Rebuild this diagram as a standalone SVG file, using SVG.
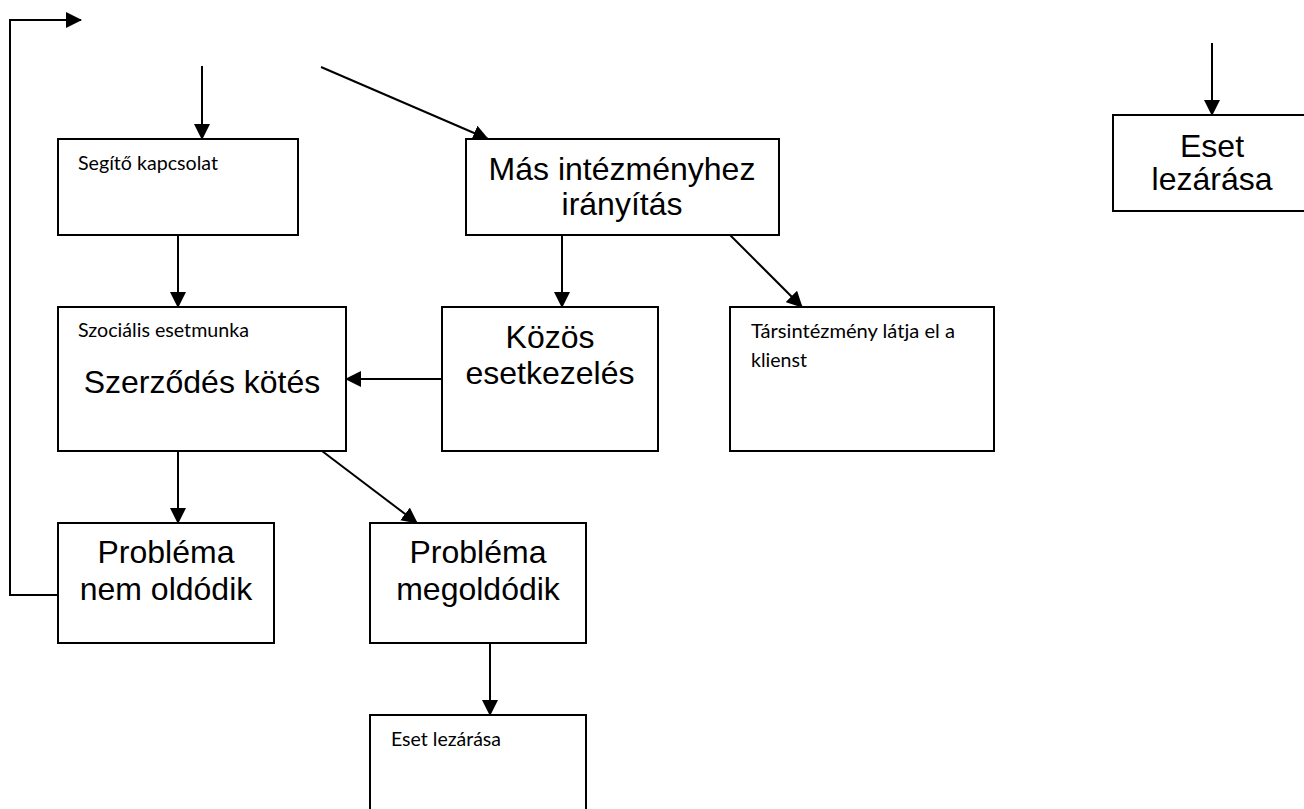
<svg xmlns="http://www.w3.org/2000/svg" width="1304" height="809" viewBox="0 0 1304 809">
  <defs>
    <marker id="arrow" markerUnits="userSpaceOnUse" markerWidth="16" markerHeight="16" refX="15" refY="8" orient="auto">
      <path d="M0,0 L16,8 L0,16 z" fill="#000"/>
    </marker>
    <style>
      .box { fill: #fff; stroke: #000; stroke-width: 2; }
      .big { font-family: "Liberation Sans", Arial, sans-serif; font-size: 32px; fill: #000; text-anchor: middle; }
      .small { font-family: Lato, "Open Sans", sans-serif; font-size: 20px; fill: #000; }
      .edge { fill: none; stroke: #000; stroke-width: 2; marker-end: url(#arrow); }
    </style>
  </defs>
  <rect width="1304" height="809" fill="#fff"/>

  <g id="connectors">
    <polyline class="edge" points="58,595 10,595 10,20 81,20"/>
    <line class="edge" x1="202" y1="66" x2="202" y2="139"/>
    <line class="edge" x1="321" y1="67" x2="488" y2="139"/>
    <line class="edge" x1="562" y1="235" x2="562" y2="307"/>
    <line class="edge" x1="730" y1="235" x2="802" y2="307"/>
    <line class="edge" x1="178" y1="235" x2="178" y2="307"/>
    <line class="edge" x1="442" y1="379" x2="346" y2="379"/>
    <line class="edge" x1="178" y1="451" x2="178" y2="523"/>
    <line class="edge" x1="322" y1="451" x2="417" y2="523"/>
    <line class="edge" x1="490" y1="643" x2="490" y2="715"/>
    <line class="edge" x1="1212" y1="43" x2="1212" y2="115"/>
  </g>

  <g id="segito-kapcsolat">
    <rect class="box" x="58" y="139" width="240" height="96"/>
    <text class="small" x="78" y="170" textLength="140" lengthAdjust="spacingAndGlyphs">Segítő kapcsolat</text>
  </g>

  <g id="mas-intezmeny">
    <rect class="box" x="466" y="139" width="313" height="96"/>
    <text class="big" x="622" y="180">Más intézményhez</text>
    <text class="big" x="622" y="215">irányítás</text>
  </g>

  <g id="szocialis-esetmunka">
    <rect class="box" x="58" y="307" width="288" height="144"/>
    <text class="small" x="78" y="337" textLength="171" lengthAdjust="spacingAndGlyphs">Szociális esetmunka</text>
    <text class="big" x="202" y="393">Szerződés kötés</text>
  </g>

  <g id="kozos-esetkezeles">
    <rect class="box" x="442" y="307" width="216" height="144"/>
    <text class="big" x="550" y="348">Közös</text>
    <text class="big" x="550" y="384">esetkezelés</text>
  </g>

  <g id="tarsintezmeny">
    <rect class="box" x="730" y="307" width="264" height="144"/>
    <text class="small" x="751" y="338" textLength="204" lengthAdjust="spacingAndGlyphs">Társintézmény látja el a</text>
    <text class="small" x="751" y="367" textLength="56" lengthAdjust="spacingAndGlyphs">klienst</text>
  </g>

  <g id="problema-nem-oldodik">
    <rect class="box" x="58" y="523" width="216" height="120"/>
    <text class="big" x="166" y="563">Probléma</text>
    <text class="big" x="166" y="600">nem oldódik</text>
  </g>

  <g id="problema-megoldodik">
    <rect class="box" x="370" y="523" width="216" height="120"/>
    <text class="big" x="478" y="563">Probléma</text>
    <text class="big" x="478" y="600">megoldódik</text>
  </g>

  <g id="eset-lezarasa">
    <rect class="box" x="370" y="715" width="216" height="110"/>
    <text class="small" x="391" y="746" textLength="110" lengthAdjust="spacingAndGlyphs">Eset lezárása</text>
  </g>

  <g id="eset-lezarasa-2">
    <rect class="box" x="1113" y="115" width="198" height="96"/>
    <text class="big" x="1212" y="157">Eset</text>
    <text class="big" x="1212" y="190">lezárása</text>
  </g>
</svg>
